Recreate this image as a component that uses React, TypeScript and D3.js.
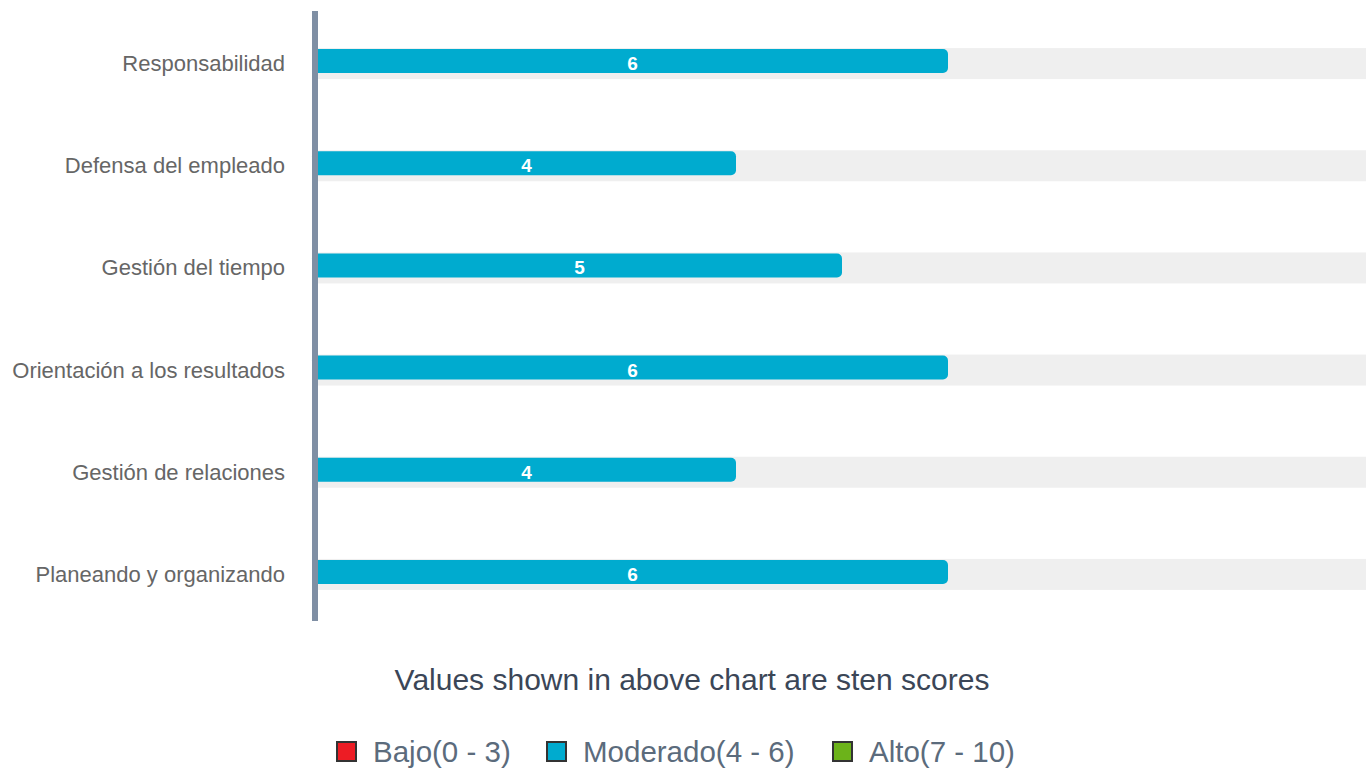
import React from 'react';
import * as d3 from 'd3';

const categories = [
  'Responsabilidad',
  'Defensa del empleado',
  'Gestión del tiempo',
  'Orientación a los resultados',
  'Gestión de relaciones',
  'Planeando y organizando',
];
const scores = [6, 4, 5, 6, 4, 6];
const maxScore = 10;
const legendLabels = ['Bajo(0 - 3)', 'Moderado(4 - 6)', 'Alto(7 - 10)'];
const legendColors = ['#ed1c24', '#00abcf', '#6cb31a'];

export default function App() {
  const width = 1366;
  const height = 771;
  const left = 312;
  const top = 11;
  const bottom = 621;

  const x = d3.scaleLinear().domain([0, maxScore]).range([left, left + 1060]);
  const y = d3.scaleBand().domain(categories).range([top, top + 613]);

  const font = '"Liberation Sans", Arial, sans-serif';

  const legendX = [336, 546, 832];

  return (
    <svg width={width} height={height} style={{ position: 'absolute', left: 0, top: 0, background: '#fff' }}>
      {categories.map((c, i) => {
        const cy = y(c)! + y.bandwidth() / 2;
        return (
          <g key={c}>
            <rect x={x(0) + 4} y={cy - 14} width={x(maxScore) - x(0)} height={31} fill="#efefef" />
            <rect x={x(0)} y={cy - 13} width={x(scores[i]) - x(0)} height={24} rx={5} fill="#00abcf" />
            <text x={(x(0) + 5 + x(scores[i])) / 2} y={cy + 8} textAnchor="middle" fill="#fff"
              fontFamily={font} fontWeight="bold" fontSize={19}>{scores[i]}</text>
            <text x={285} y={cy + 9} textAnchor="end" fill="#666" fontFamily={font} fontSize={22}>{c}</text>
          </g>
        );
      })}
      <rect x={312} y={top} width={6} height={bottom - top} fill="#7f8fa4" />
      <text x={692} y={690} textAnchor="middle" fill="#3b4657" fontFamily={font} fontSize={30}>
        Values shown in above chart are sten scores
      </text>
      {legendLabels.map((l, i) => (
        <g key={l}>
          <rect x={legendX[i] + 1} y={742} width={19} height={19} fill={legendColors[i]} stroke="#333" strokeWidth={2} />
          <text x={legendX[i] + 37} y={762} fill="#5b6b7c" fontFamily={font} fontSize={29.5}>{l}</text>
        </g>
      ))}
    </svg>
  );
}
